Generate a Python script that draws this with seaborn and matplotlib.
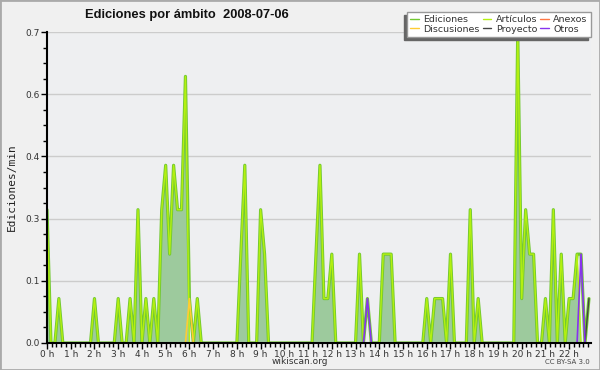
import numpy as np
import matplotlib
matplotlib.use("Agg")
import matplotlib.pyplot as plt
import seaborn as sns
from matplotlib.patches import Rectangle
from matplotlib.lines import Line2D
from matplotlib.ticker import MultipleLocator, FormatStrFormatter
from matplotlib.transforms import IdentityTransform

# Ediciones cada 10 minutos (una fila = una hora, 0 h ... 22 h)
articulos = [
    3, 0, 0, 1, 0, 0,   # 0 h
    0, 0, 0, 0, 0, 0,   # 1 h
    1, 0, 0, 0, 0, 0,   # 2 h
    1, 0, 0, 1, 0, 3,   # 3 h
    0, 1, 0, 1, 0, 3,   # 4 h
    4, 2, 4, 3, 3, 6,   # 5 h
    0, 0, 1, 0, 0, 0,   # 6 h
    0, 0, 0, 0, 0, 0,   # 7 h
    0, 2, 4, 0, 0, 0,   # 8 h
    3, 2, 0, 0, 0, 0,   # 9 h
    0, 0, 0, 0, 0, 0,   # 10 h
    0, 0, 2, 4, 1, 1,   # 11 h
    2, 0, 0, 0, 0, 0,   # 12 h
    0, 2, 0, 0, 0, 0,   # 13 h
    0, 2, 2, 2, 0, 0,   # 14 h
    0, 0, 0, 0, 0, 0,   # 15 h
    1, 0, 1, 1, 1, 0,   # 16 h
    2, 0, 0, 0, 0, 3,   # 17 h
    0, 1, 0, 0, 0, 0,   # 18 h
    0, 0, 0, 0, 0, 7,   # 19 h
    1, 3, 2, 2, 0, 0,   # 20 h
    1, 0, 3, 0, 2, 0,   # 21 h
    1, 1, 2, 0, 0, 0,   # 22 h
]
n = len(articulos)
anexos = [0] * n
discusiones = [0] * n
discusiones[36] = 1          # 6:00
proyecto = [0] * n
proyecto[137] = 1            # 22:50
otros = [0] * n
otros[81] = 1                # 13:30
otros[135] = 2               # 22:30

horas = np.arange(n) / 6
art = np.array(articulos) / 10
anx = np.array(anexos) / 10
dis = np.array(discusiones) / 10
pro = np.array(proyecto) / 10
otr = np.array(otros) / 10
total = art + anx + dis + pro + otr

colores = {"Ediciones": "#72c832", "Artículos": "#b4f010", "Anexos": "#ff7744",
           "Discusiones": "#ffcc33", "Proyecto": "#444444", "Otros": "#8833ee"}

sns.set_theme(style="white")
plt.rcParams["font.family"] = ["DejaVu Sans"]

fig = plt.figure(figsize=(6, 3.7), dpi=100, facecolor="#f0f0f0")
ax = fig.add_axes([47 / 600, 1 - 343 / 370, 544 / 600, 311 / 370])
ax.set_facecolor("#eeeff1")

ax.fill_between(horas, art, color="#9dca9d", lw=0, zorder=1.5)
sns.lineplot(x=horas, y=total, ax=ax, color=colores["Ediciones"], lw=2.3, zorder=2)
sns.lineplot(x=horas, y=art, ax=ax, color=colores["Artículos"], lw=1.0, zorder=2.1)
sns.lineplot(x=horas, y=anx, ax=ax, color=colores["Anexos"], lw=1, zorder=2.2)
sns.lineplot(x=horas, y=dis, ax=ax, color=colores["Discusiones"], lw=1.2, zorder=2.2)
sns.lineplot(x=horas, y=pro, ax=ax, color=colores["Proyecto"], lw=1, zorder=2.2)
sns.lineplot(x=horas, y=otr, ax=ax, color=colores["Otros"], lw=1.2, zorder=2.3)

ax.set_xlim(0, 22.92)
ax.set_ylim(0, 0.7)
ax.yaxis.set_major_locator(MultipleLocator(0.14))
ax.yaxis.set_minor_locator(MultipleLocator(0.035))
ax.yaxis.set_major_formatter(FormatStrFormatter("%.1f"))
ax.xaxis.set_minor_locator(MultipleLocator(0.2))
ax.set_xticks(range(23))
ax.set_xticklabels([f"{h} h" for h in range(23)])
ax.grid(axis="y", color="#cccccc", lw=1)
ax.set_axisbelow(True)
for s in ["top", "right"]:
    ax.spines[s].set_visible(False)
for s in ["left", "bottom"]:
    ax.spines[s].set_color("black")
    ax.spines[s].set_linewidth(1.5)
    ax.spines[s].set_zorder(3)
ax.tick_params(axis="both", which="major", direction="out", length=4, width=1,
               color="black", labelsize=6.5, labelcolor="#333333", pad=1,
               left=True, bottom=True)
ax.tick_params(axis="both", which="minor", direction="out", length=3, width=1,
               color="black", left=True, bottom=True)
ax.set_xlabel("")
ax.set_ylabel("Ediciones/min", family="DejaVu Sans Mono", fontsize=8, color="#222222", labelpad=6)

orden = ["Ediciones", "Discusiones", "Artículos", "Proyecto", "Anexos", "Otros"]
h = [Line2D([], [], color=colores[l], lw=1) for l in orden]
leg = ax.legend(h, orden, ncol=3, loc="upper right", bbox_to_anchor=(591 / 600, 1 - 12 / 370),
                bbox_transform=fig.transFigure, fontsize=6.8, frameon=True, fancybox=False,
                handlelength=0.9, handletextpad=0.5, columnspacing=0.3, labelspacing=0.05,
                borderpad=0.35, borderaxespad=0)
leg.get_frame().set_facecolor("white")
leg.get_frame().set_edgecolor("#999999")
leg.get_frame().set_alpha(1)
for t in leg.get_texts():
    t.set_color("#333333")
leg.set_zorder(6)

fig.text(85 / 600, 1 - 15 / 370, "Ediciones por ámbito  2008-07-06",
         family="Liberation Sans", fontsize=9.3, weight="bold",
         va="center", ha="left", color="#111111")
fig.text(0.5, 1 - 362 / 370, "wikiscan.org", fontsize=6.5, ha="center", va="center", color="#333333")
fig.text(590 / 600, 1 - 362 / 370, "CC BY-SA 3.0", fontsize=5, ha="right", va="center", color="#444444")

fig.add_artist(Rectangle((0, 0), 1, 1, transform=fig.transFigure, fill=False,
                         ec="#aaaaaa", lw=2))

fig.canvas.draw()
bb = leg.get_window_extent()
ax.add_patch(Rectangle((bb.x0 - 3, bb.y0 - 3), bb.width, bb.height, transform=IdentityTransform(),
                       color="#666666", clip_on=False, zorder=5.9))

fig.savefig("out.png", dpi=100, facecolor=fig.get_facecolor())
